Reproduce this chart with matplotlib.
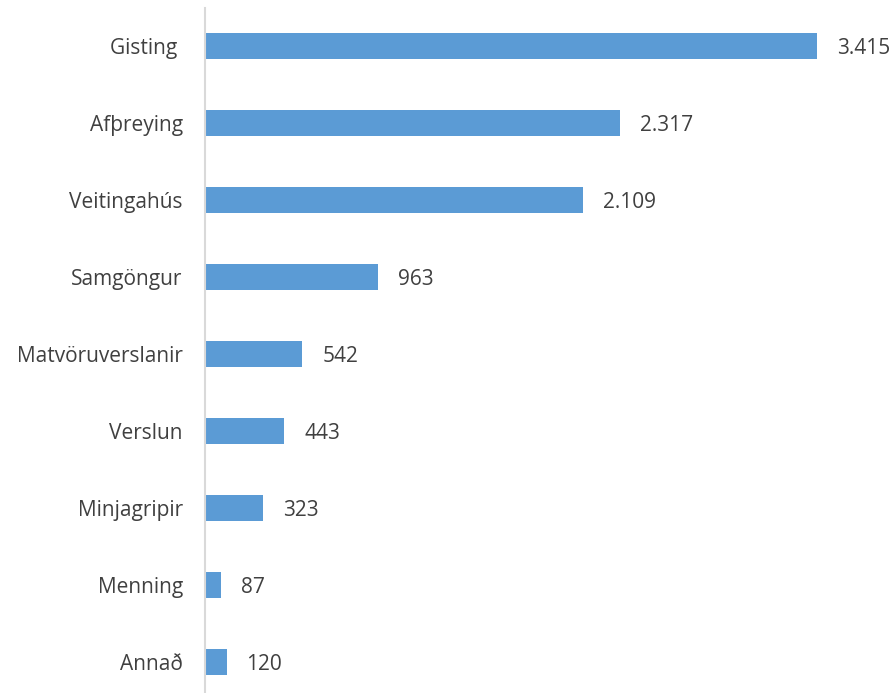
import matplotlib
matplotlib.use("Agg")
import matplotlib.pyplot as plt

categories = ["Gisting ", "Afþreying", "Veitingahús", "Samgöngur", "Matvöruverslanir",
              "Verslun", "Minjagripir", "Menning", "Annað"]
values = [3415, 2317, 2109, 963, 542, 443, 323, 87, 120]
value_labels = ["3.415", "2.317", "2.109", "963", "542", "443", "323", "87", "120"]

W, H = 895, 693
fig = plt.figure(figsize=(W / 100, H / 100), dpi=100)
left_px, top_px, bottom_px = 205, 7.5, 700.5
xmax = 3800
px_per_unit = (817 - 205) / 3415
right_px = left_px + xmax * px_per_unit
ax = fig.add_axes([left_px / W, 1 - bottom_px / H, (right_px - left_px) / W, (bottom_px - top_px) / H])

ypos = list(range(len(categories)))
ax.barh(ypos, values, height=0.35, color="#5B9BD5")
ax.set_ylim(len(categories) - 0.5, -0.5)
ax.set_xlim(0, xmax)
ax.set_yticks(ypos)
ax.set_yticklabels(categories, fontfamily="Open Sans", fontsize=15, color="#404040")
ax.tick_params(axis="y", length=0, pad=16)
ax.set_xticks([])
for s in ["top", "right", "bottom"]:
    ax.spines[s].set_visible(False)
ax.spines["left"].set_color("#D9D9D9")
ax.spines["left"].set_linewidth(1.5)

offset = 20 / px_per_unit
for y, v, lab in zip(ypos, values, value_labels):
    ax.text(v + offset, y, lab, va="center_baseline", ha="left", fontfamily="Open Sans",
            fontsize=15, color="#404040")

fig.savefig("out.png", dpi=100)
